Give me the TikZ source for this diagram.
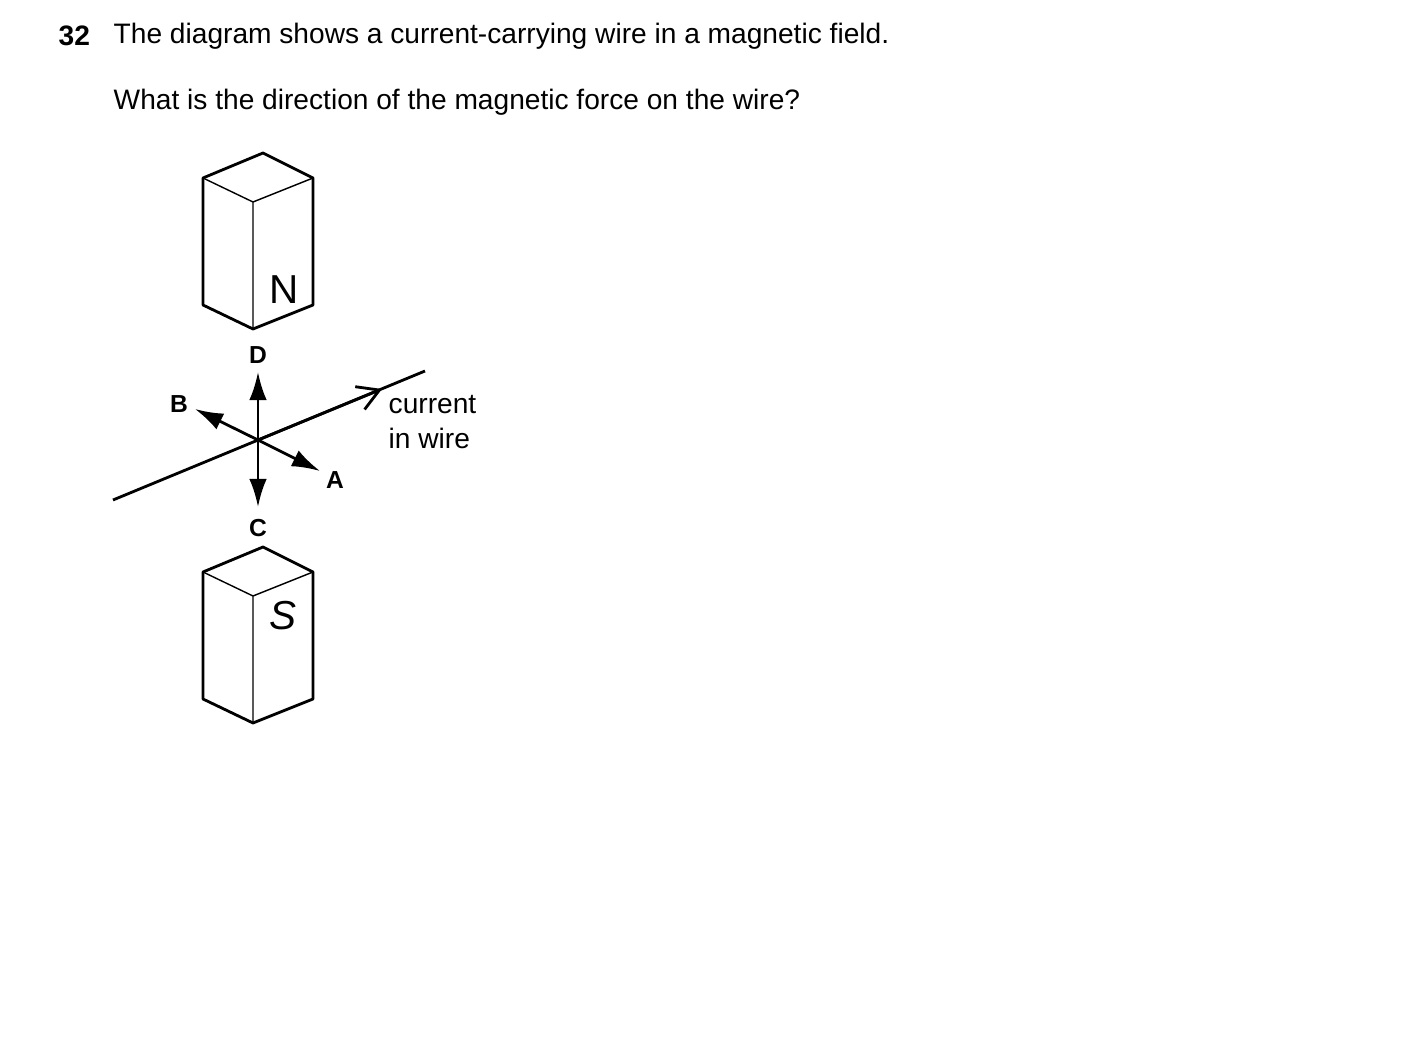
\documentclass[tikz,border=0pt]{standalone}
\usepackage{fontspec}
\setmainfont{Liberation Sans}
\usetikzlibrary{arrows.meta}
\begin{document}
\begin{tikzpicture}[x=0.01cm, y=-0.01cm, line join=round,
    txt/.style={font=\fontsize{8}{9.6}\selectfont, inner sep=0pt},
    lbl/.style={font=\fontsize{7}{8}\selectfont\bfseries, inner sep=0pt},
    pole/.style={font=\fontsize{11.5}{12}\selectfont, inner sep=0pt},
    force/.style={thick, -{Latex[length=8pt, width=5pt]}},
    box/.style={thick}, edge/.style={thin}]
    \useasboundingbox (0,0) rectangle (1403,1052);

    % Texte
    \node[txt, font=\fontsize{8}{9.6}\selectfont\bfseries, anchor=west] (num) at (58,36) {32};
    \node[txt, anchor=west] (q1) at (113,36) {The diagram shows a current-carrying wire in a magnetic field.};
    \node[txt, anchor=west] (q2) at (113,102) {What is the direction of the magnetic force on the wire?};

    % Magnete
    \draw[box] (203,178) -- (263,153) -- (313,178) -- (313,305) -- (253,329) -- (203,305) -- cycle;
    \draw[edge] (203,178) -- (253,202) -- (313,178) (253,202) -- (253,329);
    \node[pole] (N) at (284,290) {N};
    \draw[box] (203,572) -- (263,547) -- (313,572) -- (313,699) -- (253,723) -- (203,699) -- cycle;
    \draw[edge] (203,572) -- (253,596) -- (313,572) (253,596) -- (253,723);
    \node[pole, font=\fontsize{11.5}{12}\selectfont\itshape] (S) at (283,616) {S};

    % Draht und Kraefte
    \coordinate (O) at (258,440);
    \coordinate (w1) at (113,500);
    \coordinate (w2) at (425,371);
    \coordinate (wm) at (382,389);
    \draw[thick] (w1) -- (w2);
    \draw[thick, -{Straight Barb[length=6pt, width=7pt]}] (O) -- (wm);
    \coordinate (tD) at (258,372);
    \coordinate (tC) at (258,507);
    \coordinate (tB) at (195,409);
    \coordinate (tA) at (320,471);
    \draw[force] (O) -- (tD);
    \draw[force] (O) -- (tC);
    \draw[force] (O) -- (tB);
    \draw[force] (O) -- (tA);
    \node[lbl] (D) at (258,355) {D};
    \node[lbl] (C) at (258,528) {C};
    \node[lbl] (B) at (179,404) {B};
    \node[lbl] (A) at (335,480) {A};
    \node[txt, anchor=west] (cur) at (388,405) {current};
    \node[txt, anchor=west] (inw) at (388,438) {in wire};
\end{tikzpicture}
\end{document}
